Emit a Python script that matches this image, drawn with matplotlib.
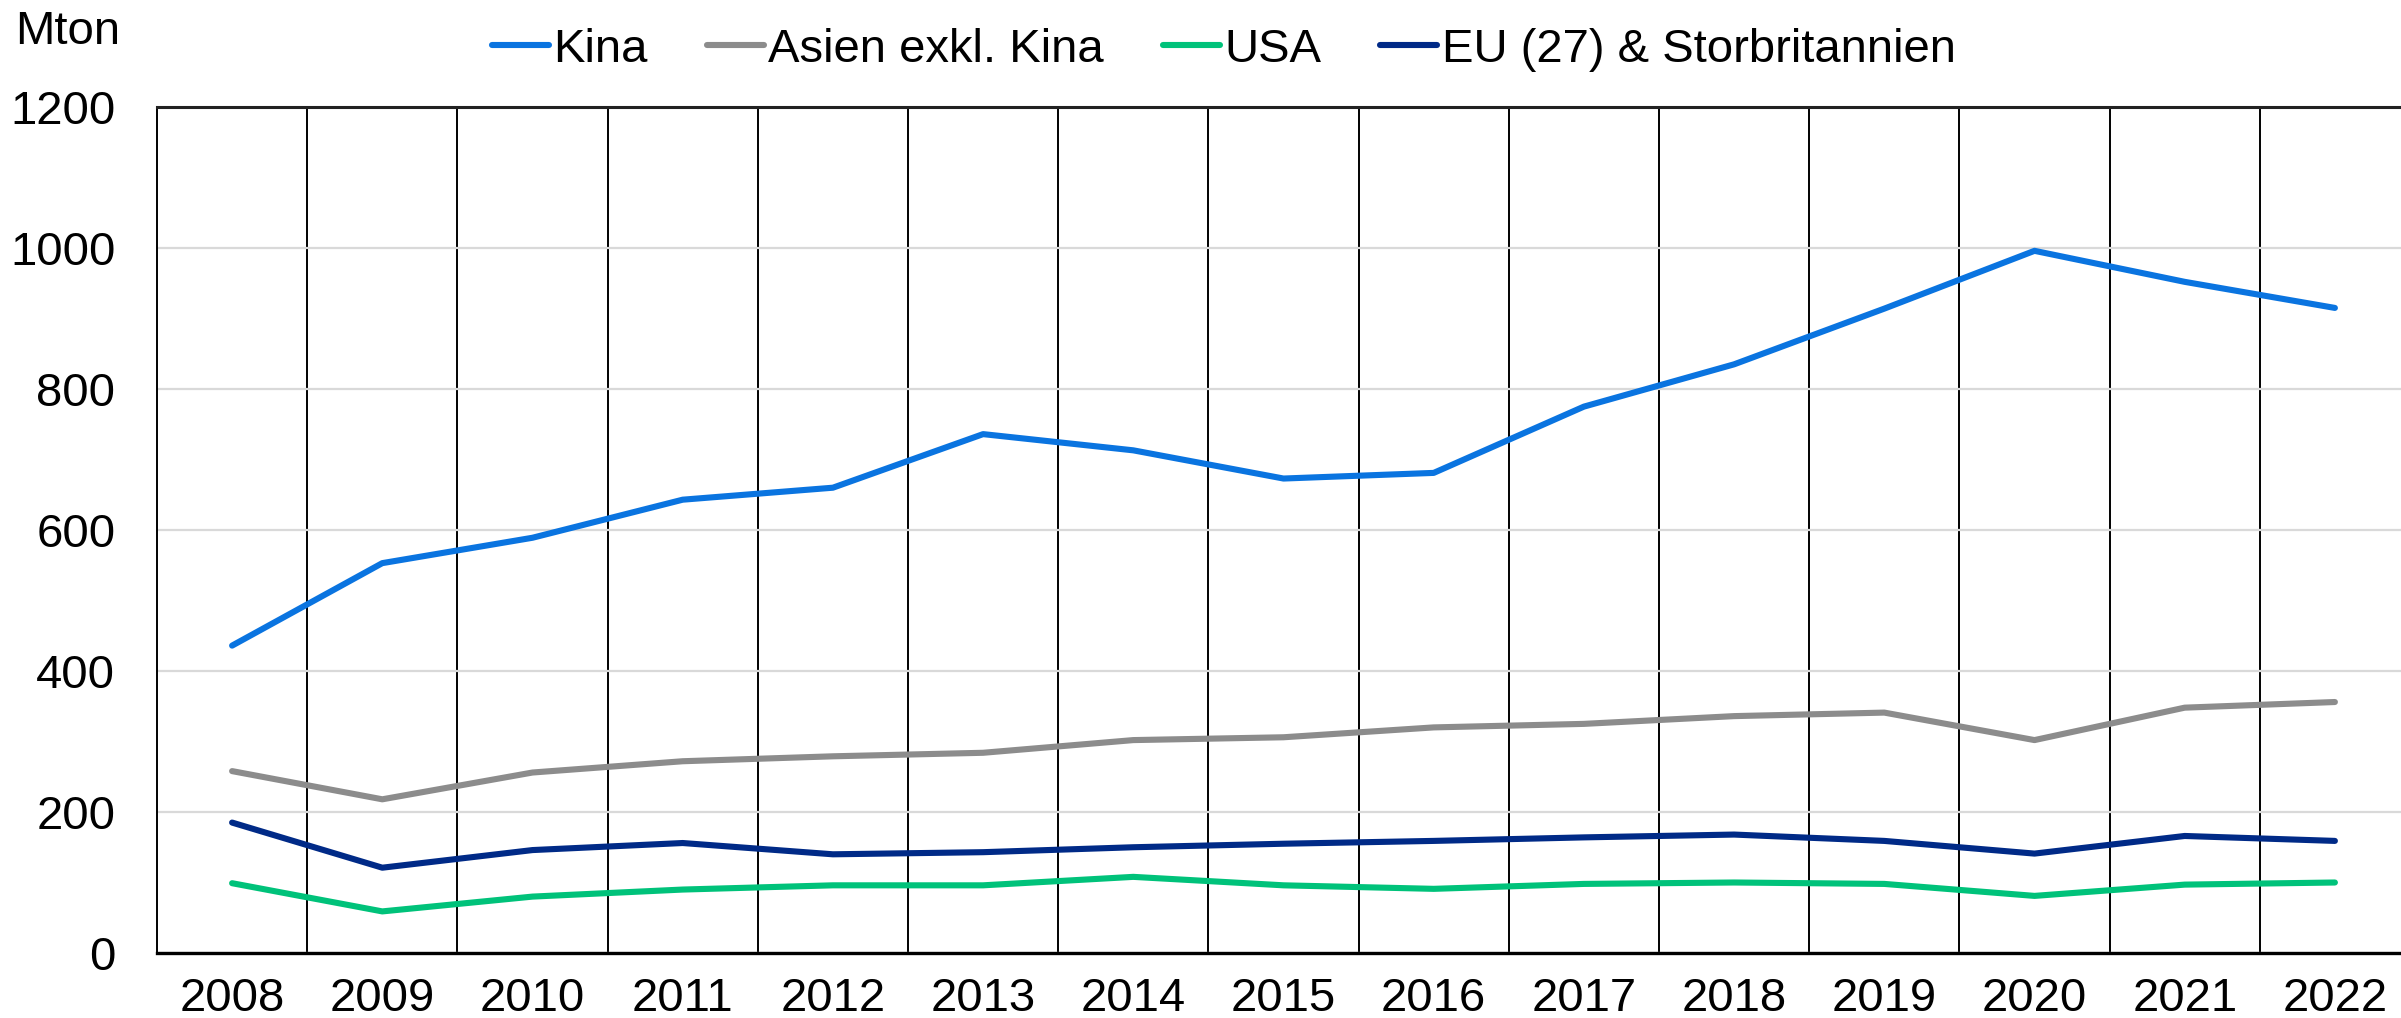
import numpy as np
import matplotlib
matplotlib.use("Agg")
import matplotlib.pyplot as plt

plt.rcParams['font.family'] = ['Liberation Sans', 'DejaVu Sans']

# Data (Mton)
ar = ['2008', '2009', '2010', '2011', '2012', '2013', '2014', '2015',
      '2016', '2017', '2018', '2019', '2020', '2021', '2022']
kina = [436, 553, 589, 643, 660, 736, 713, 673, 681, 775, 835, 914, 996, 952, 915]
asien = [258, 218, 256, 272, 279, 284, 302, 306, 320, 325, 336, 341, 302, 348, 356]
usa = [99, 59, 80, 90, 96, 96, 108, 96, 91, 98, 100, 98, 81, 97, 100]
eu = [185, 121, 146, 156, 140, 143, 150, 155, 159, 164, 168, 159, 141, 166, 159]

serier = [
    ('Kina', kina, '#0A74E0'),
    ('Asien exkl. Kina', asien, '#8C8C8C'),
    ('USA', usa, '#00C27A'),
    ('EU (27) & Storbritannien', eu, '#002A87'),
]

W, H = 2401, 1018
fig = plt.figure(figsize=(W / 100, H / 100), dpi=100)
ax = fig.add_axes([157 / W, 65 / H, (2410 - 157) / W, (953 - 107) / H])

x = np.arange(len(ar))
for namn, varden, farg in serier:
    ax.plot(x, varden, color=farg, lw=4.4, label=namn, solid_capstyle='round',
            solid_joinstyle='round', zorder=3)

ax.set_xlim(-0.5, len(ar) - 0.5)
ax.set_ylim(0, 1200)
ax.set_yticks(range(0, 1201, 200))
ax.set_xticks(x)
ax.set_xticklabels(ar)
ax.set_xticks(np.arange(0.5, len(ar) - 1, 1), minor=True)

ax.grid(axis='y', which='major', color='#D9D9D9', lw=1.6, zorder=0)
ax.grid(axis='x', which='minor', color='black', lw=1.4, zorder=1)
ax.grid(axis='x', which='major', visible=False)

ax.tick_params(axis='both', which='both', length=0, labelsize=34)
ax.tick_params(axis='y', pad=30)
ax.tick_params(axis='x', pad=17)

for s in ['left', 'bottom', 'top']:
    ax.spines[s].set_color('black')
ax.spines['left'].set_linewidth(1.4)
ax.spines['bottom'].set_linewidth(2.4)
ax.spines['top'].set_linewidth(2.2)
ax.spines['top'].set_color('#222222')
ax.spines['right'].set_visible(False)

fig.text(15 / W, 1 - 32 / H, 'Mton', fontsize=34, ha='left', va='center')

fig.legend(loc='center', bbox_to_anchor=(1224 / W, 1 - 50 / H), ncol=4,
           frameon=False, fontsize=34, handlelength=1.2, handletextpad=0.1,
           columnspacing=1.25, borderpad=0)

fig.savefig('out.png', dpi=100)
